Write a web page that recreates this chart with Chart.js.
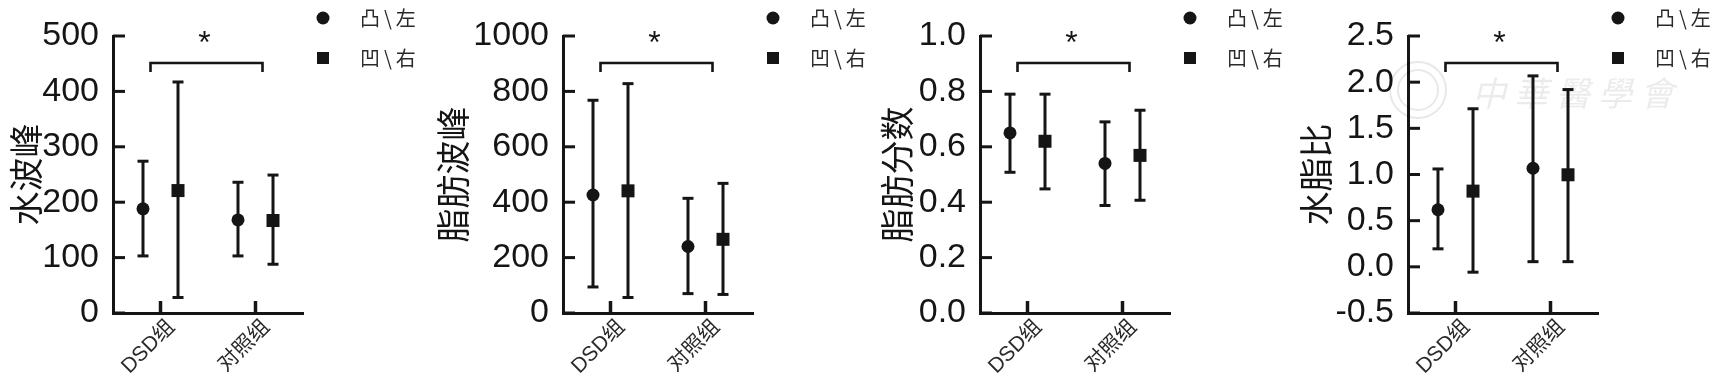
<!DOCTYPE html>
<html><head><meta charset="utf-8">
<script src="https://cdn.jsdelivr.net/npm/chart.js@4.4.1/dist/chart.umd.min.js"></script>
<style>
html,body{margin:0;padding:0;background:#fff;width:1727px;height:383px;overflow:hidden;}
canvas{position:absolute;top:0;}
</style></head><body>
<canvas id="c1"></canvas><canvas id="c2"></canvas><canvas id="c3"></canvas><canvas id="c4"></canvas>
<script>
// ---- data ----
const categories = ['DSD组', '对照组'];
const seriesNames = ['凸\\左', '凹\\右'];
const yTitles = ['水波峰', '脂肪波峰', '脂肪分数', '水脂比'];

// 水波峰
const waterConvexMean = [188, 168];
const waterConvexLow  = [103, 103];
const waterConvexHigh = [274, 236];
const waterConcaveMean = [221, 167];
const waterConcaveLow  = [28, 88];
const waterConcaveHigh = [417, 249];
const waterTicks = [0, 500, 100];

// 脂肪波峰
const fatConvexMean = [426, 240];
const fatConvexLow  = [94, 70];
const fatConvexHigh = [768, 414];
const fatConcaveMean = [441, 266];
const fatConcaveLow  = [56, 67];
const fatConcaveHigh = [828, 468];
const fatTicks = [0, 1000, 200];

// 脂肪分数
const fracConvexMean = [0.65, 0.54];
const fracConvexLow  = [0.508, 0.388];
const fracConvexHigh = [0.79, 0.69];
const fracConcaveMean = [0.62, 0.569];
const fracConcaveLow  = [0.448, 0.407];
const fracConcaveHigh = [0.79, 0.732];
const fracTicks = [0, 1.0, 0.2];

// 水脂比
const ratioConvexMean = [0.618, 1.068];
const ratioConvexLow  = [0.195, 0.056];
const ratioConvexHigh = [1.06, 2.068];
const ratioConcaveMean = [0.82, 0.997];
const ratioConcaveLow  = [-0.058, 0.056];
const ratioConcaveHigh = [1.712, 1.92];
const ratioTicks = [-0.5, 2.5, 0.5];

const sigLabel = '*';

// ---- layout (positions/sizes only) ----
const INK = '#151515';
const panels = [
  {id:'c1', left:0,    width:433, padLeft:9,  yWidth:104, dec:0,
   mean:[waterConvexMean, waterConcaveMean], low:[waterConvexLow, waterConcaveLow], high:[waterConvexHigh, waterConcaveHigh], ticks:waterTicks, title:yTitles[0]},
  {id:'c2', left:430,  width:452, padLeft:6,  yWidth:127, dec:0,
   mean:[fatConvexMean, fatConcaveMean], low:[fatConvexLow, fatConcaveLow], high:[fatConvexHigh, fatConcaveHigh], ticks:fatTicks, title:yTitles[1]},
  {id:'c3', left:860,  width:440, padLeft:20, yWidth:100, dec:1,
   mean:[fracConvexMean, fracConcaveMean], low:[fracConvexLow, fracConcaveLow], high:[fracConvexHigh, fracConcaveHigh], ticks:fracTicks, title:yTitles[2]},
  {id:'c4', left:1290, width:437, padLeft:9,  yWidth:109, dec:1, watermark:true,
   mean:[ratioConvexMean, ratioConcaveMean], low:[ratioConvexLow, ratioConcaveLow], high:[ratioConvexHigh, ratioConcaveHigh], ticks:ratioTicks, title:yTitles[3]},
];
const PLOT_WIDTH = 190;
const markers = ['circle', 'square'];

function drawMarker(ctx, kind, x, y, r) {
  ctx.fillStyle = INK;
  ctx.beginPath();
  if (kind === 'circle') ctx.arc(x, y, r, 0, Math.PI * 2);
  else ctx.rect(x - r, y - r, 2 * r, 2 * r);
  ctx.fill();
}

const decor = {
  id: 'decor',
  beforeDatasetsDraw(chart, args, opts) {
    if (!opts.watermark) return;
    const ctx = chart.ctx;
    ctx.save();
    ctx.fillStyle = 'rgba(0,0,0,0.08)';
    ctx.strokeStyle = 'rgba(0,0,0,0.09)';
    ctx.lineWidth = 2;
    ctx.beginPath(); ctx.arc(128, 90, 28, 0, Math.PI * 2); ctx.stroke();
    ctx.beginPath(); ctx.arc(128, 90, 20, 0, Math.PI * 2); ctx.stroke();
    ctx.font = 'italic 34px "Noto Sans CJK SC"';
    ctx.textBaseline = 'middle';
    ctx.textAlign = 'left';
    const chars = ['中', '華', '醫', '學', '會'];
    chars.forEach((c, i) => ctx.fillText(c, 182 + i * 42, 93));
    ctx.restore();
  },
  afterDatasetsDraw(chart, args, opts) {
    const ctx = chart.ctx, xs = chart.scales.x, ys = chart.scales.y, a = chart.chartArea;
    ctx.save();
    ctx.strokeStyle = INK; ctx.lineCap = 'butt';
    // inward ticks
    ctx.lineWidth = 3;
    ys.ticks.forEach((t, i) => {
      const py = ys.getPixelForTick(i);
      ctx.beginPath(); ctx.moveTo(a.left, py); ctx.lineTo(a.left + 12, py); ctx.stroke();
    });
    ctx.lineWidth = 3.5;
    xs.ticks.forEach((t, i) => {
      const px = xs.getPixelForTick(i);
      ctx.beginPath(); ctx.moveTo(px, a.bottom); ctx.lineTo(px, a.bottom - 12); ctx.stroke();
    });
    // caps + markers
    chart.data.datasets.forEach((ds, di) => {
      const meta = chart.getDatasetMeta(di);
      meta.data.forEach((el, j) => {
        const [lo, hi] = ds.data[j];
        ctx.lineWidth = 3; ctx.strokeStyle = INK;
        [lo, hi].forEach(v => {
          const py = ys.getPixelForValue(v);
          ctx.beginPath(); ctx.moveTo(el.x - 5.5, py); ctx.lineTo(el.x + 5.5, py); ctx.stroke();
        });
        drawMarker(ctx, markers[di], el.x, ys.getPixelForValue(opts.means[di][j]), 6.5);
      });
    });
    // significance bracket
    const x0 = xs.getPixelForValue(0) - 10, x1 = xs.getPixelForValue(1) + 7;
    const by = a.top + 27;
    ctx.lineWidth = 2.6;
    ctx.beginPath();
    ctx.moveTo(x0, by + 9); ctx.lineTo(x0, by); ctx.lineTo(x1, by); ctx.lineTo(x1, by + 9);
    ctx.stroke();
    ctx.fillStyle = INK;
    ctx.font = '32px "Liberation Sans"';
    ctx.textAlign = 'center'; ctx.textBaseline = 'alphabetic';
    ctx.fillText(sigLabel, (x0 + x1) / 2 - 2, a.top + 17);
    // legend
    const lx = a.right + 20;
    ctx.font = '20px "Noto Sans CJK SC", "Liberation Sans"';
    ctx.letterSpacing = '4px';
    ctx.textAlign = 'left'; ctx.textBaseline = 'middle';
    seriesNames.forEach((n, i) => {
      const ly = 18 + i * 40;
      drawMarker(ctx, markers[i], lx, ly, i === 0 ? 6.5 : 6);
      ctx.fillStyle = '#2a2a2a';
      ctx.fillText(n, a.right + 57, ly);
    });
    ctx.restore();
  }
};

panels.forEach(p => {
  const cv = document.getElementById(p.id);
  cv.width = p.width; cv.height = 383;
  cv.style.left = p.left + 'px';
  cv.style.width = p.width + 'px'; cv.style.height = '383px';
  const plotLeft = p.padLeft + p.yWidth;
  const padRight = p.width - plotLeft - PLOT_WIDTH;
  new Chart(cv, {
    type: 'bar',
    data: {
      labels: categories,
      datasets: seriesNames.map((n, i) => ({
        label: n,
        data: categories.map((c, j) => [p.low[i][j], p.high[i][j]]),
        backgroundColor: INK,
        borderWidth: 0,
        categoryPercentage: 0.737,
        barPercentage: 1,
        maxBarThickness: 3,
      }))
    },
    options: {
      responsive: false,
      animation: false,
      devicePixelRatio: 1,
      layout: { padding: { left: p.padLeft, right: padRight, top: 36, bottom: 0 } },
      plugins: {
        legend: { display: false },
        tooltip: { enabled: false },
        decor: { means: p.mean, watermark: !!p.watermark }
      },
      scales: {
        x: {
          grid: { display: false },
          border: { display: true, color: INK, width: 3 },
          ticks: {
            minRotation: 45, maxRotation: 45, padding: -6, labelOffset: 11,
            color: '#2a2a2a',
            font: { family: '"Liberation Sans", "Noto Sans CJK SC"', size: 21 }
          },
          afterFit: s => { s.height = 70; }
        },
        y: {
          min: p.ticks[0], max: p.ticks[1],
          grid: { display: false },
          border: { display: true, color: INK, width: 3 },
          ticks: {
            stepSize: p.ticks[2], padding: 6, color: INK,
            font: { family: '"Liberation Sans"', size: 34 },
            callback: v => Number(v).toFixed(p.dec)
          },
          title: {
            display: true, text: p.title, color: INK, padding: { top: 0, bottom: 0 },
            font: { family: '"Noto Sans CJK SC"', size: 34, lineHeight: 1 }
          },
          afterFit: s => { s.width = p.yWidth; }
        }
      }
    },
    plugins: [decor]
  });
});
</script>
</body></html>
